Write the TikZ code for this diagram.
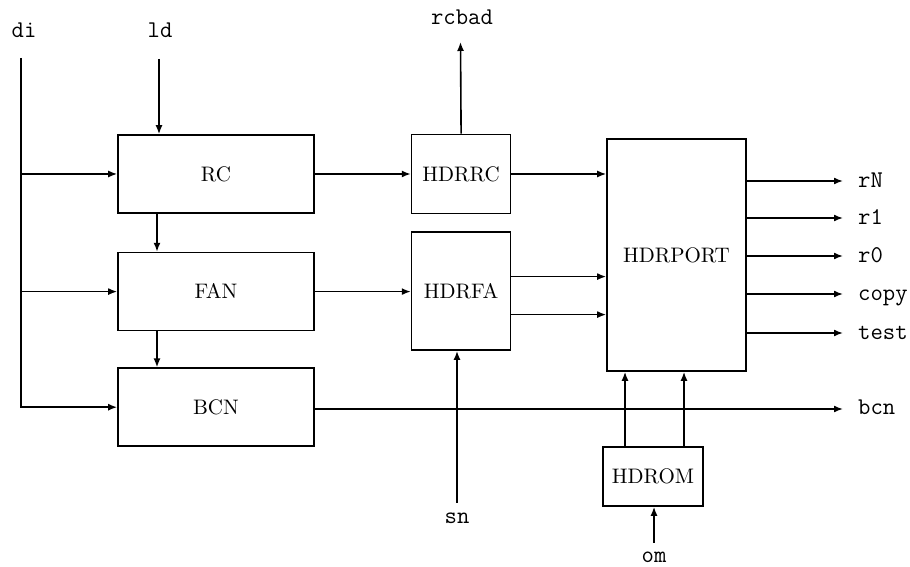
\documentclass[tikz,border=0pt]{standalone}
\usepackage{tikz}
\usetikzlibrary{arrows.meta,positioning}
\font\blkfont=cmr10 at 21pt
\tikzset{
    blk/.style = {draw, rectangle, line width=1.6pt,
        minimum width=196pt, minimum height=78pt, inner sep=2pt,
        font=\blkfont},
    sig/.style = {font=\fontsize{24}{26}\selectfont\ttfamily, inner sep=0pt},
    line/.style = {-{Latex[length=9pt,width=7pt]}, line width=1.6pt}
}
\begin{document}
\begin{tikzpicture}[x=1pt, y=1pt]
\useasboundingbox (0,0) rectangle (910,567);
\node[blk] (rc) at (216,393) {RC};
\node[blk, below=38pt of rc] (fan) {FAN};
\node[blk, below=36pt of fan] (bcn) {BCN};
\node[blk, minimum width=99pt, minimum height=79pt, right=96pt of rc] (hdrrc) {HDRRC};
\node[blk, minimum width=99pt, minimum height=118pt, below=17pt of hdrrc] (hdrfa) {HDRFA};
\node[blk, minimum width=139pt, minimum height=232pt] (hdrport) at (676.5,312) {HDRPORT};
\node[blk, minimum width=100pt, minimum height=59pt] (hdrom) at (653,90.5) {HDROM};

\node[sig, anchor=base] (dilab) at (24,529) {di};
\node[sig, anchor=base] (ldlab) at (160,529) {ld};
\node[sig, anchor=base] (rcbadlab) at (462,542) {rcbad};
\node[sig, anchor=base] (snlab) at (457,43) {sn};
\node[sig, anchor=base] (omlab) at (654,4) {om};
\node[sig, anchor=base west] (bcnlab) at (858,152) {bcn};

\coordinate (ditop) at (21,509);
\coordinate (ldin) at (159,508);
\coordinate (snin) at (457,64);
\coordinate (omin) at (654,24);
\coordinate (rcbad) at (460.5,525);
\coordinate (bcnout) at (843,158);

\draw[line] (ditop) |- (bcn.west);
\draw[line] (ditop |- rc.west) -- (rc.west);
\draw[line] (ditop |- fan.west) -- (fan.west);
\draw[line] (ldin) -- (ldin |- rc.north);
\draw[line] ([xshift=-59pt]rc.south) -- ([xshift=-59pt]fan.north);
\draw[line] ([xshift=-59pt]fan.south) -- ([xshift=-59pt]bcn.north);
\draw[line] (rc) -- (hdrrc);
\draw[line] (fan.east) -- (fan.east -| hdrfa.west);
\draw[line] (hdrrc.north) -- (rcbad);
\draw[line] (hdrrc.east) -- (hdrrc.east -| hdrport.west);
\draw[line] ([yshift=14.5pt]hdrfa.east) -- ([yshift=14.5pt]hdrfa.east -| hdrport.west);
\draw[line] ([yshift=-23.5pt]hdrfa.east) -- ([yshift=-23.5pt]hdrfa.east -| hdrport.west);
\draw[line] (snin) -- (snin |- hdrfa.south);
\draw[line] (bcnout -| bcn.east) -- (bcnout);
\draw[line] ([xshift=-28pt]hdrom.north) -- ([xshift=-28pt]hdrom.north |- hdrport.south);
\draw[line] ([xshift=31pt]hdrom.north) -- ([xshift=31pt]hdrom.north |- hdrport.south);
\draw[line] (omin) -- (omin |- hdrom.south);
\foreach \nm/\yy in {rN/386, r1/349, r0/311, copy/273, test/234} {
    \coordinate (\nm) at (843,\yy);
    \node[sig, anchor=base west] (lab\nm) at (858,\yy-6.5) {\nm};
    \draw[line] (hdrport.east |- \nm) -- (\nm);
}
\end{tikzpicture}
\end{document}
